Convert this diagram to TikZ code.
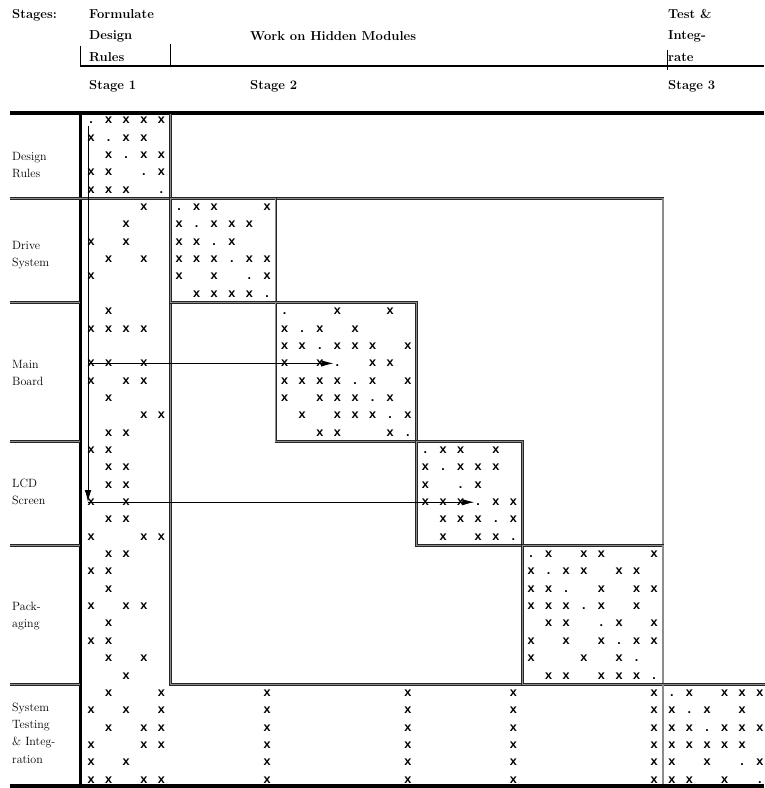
\documentclass[tikz,border=0pt]{standalone}
\usepackage{fontspec}
\setmonofont{Liberation Mono}
\usetikzlibrary{arrows.meta}

\begin{document}
\begin{tikzpicture}[x=1pt, y=-1pt,
  hdr/.style={font=\fontsize{13}{21.5}\selectfont\bfseries, align=left, inner sep=0pt},
  lbl/.style={font=\fontsize{12}{17.4}\selectfont, align=left, anchor=west, inner sep=0pt},
  xmark/.style={font=\fontsize{12.5}{12}\selectfont\ttfamily\bfseries, inner sep=0pt, text height=6.6pt, text depth=0pt},
  frame/.style={line width=3.5pt},
  dblline/.style={draw=black!85, double=black!45, line width=0.75pt, double distance=1.1pt},
  flow/.style={line width=0.9pt, -{Latex[length=12pt,width=6.5pt]}}]

  \useasboundingbox (0,0) rectangle (764,788);

  % stage headings
  \node[hdr, anchor=base west] (stages) at (12,18) {Stages:};
  \node[hdr, anchor=north west] (st-rules) at (89,9) {Formulate\\Design\\Rules};
  \node[hdr, anchor=base west] (st-hidden) at (250,40) {Work on Hidden Modules};
  \node[hdr, anchor=north west] (st-test) at (668,9) {Test \&\\Integ-\\rate};
  \node[hdr, anchor=base west] (stage1) at (89,89) {Stage 1};
  \node[hdr, anchor=base west] (stage2) at (250,89) {Stage 2};
  \node[hdr, anchor=base west] (stage3) at (668,89) {Stage 3};
  \draw[line width=1.5pt] (80,66) -- (764,66);
  \draw[line width=1pt] (80,46) -- (80,66);
  \draw[line width=1pt] (170,44) -- (170,66);
  \draw[line width=1pt] (667,50) -- (667,70);

  % module labels
  \node[lbl] (lab-rules) at (12,165) {Design\\Rules};
  \node[lbl] (lab-drive) at (12,255) {Drive\\System};
  \node[lbl] (lab-main) at (12,373) {Main\\Board};
  \node[lbl] (lab-lcd) at (12,492) {LCD\\Screen};
  \node[lbl] (lab-pack) at (12,616) {Pack-\\aging};
  \node[lbl] (lab-sys) at (12,733) {System\\Testing\\\& Integ-\\ration};

  % outer frame
  \draw[frame] (10,113) -- (764,113);
  \draw[line width=3pt] (80,113) -- (80,788);
  \draw[frame] (10,786) -- (764,786);

  % the matrix, one unit per cell
  \begin{scope}[shift={(91,120.5)}, x=17.6pt, y=-17.35pt]
    \foreach \b in {10.5,18.5,24.5,32.5}
      \draw[dblline] (-4.6,\b) -- (-0.62,\b);
    \draw[dblline] (-4.6,4.5) -- (4.5,4.5);
    \draw[dblline] (4.5,-0.35) -- (4.5,4.5);
    \draw[dblline] (4.5,4.5) rectangle (32.5,32.5);
    \foreach \a/\b in {4.5/10.5, 10.5/18.5, 18.5/24.5, 24.5/32.5}
      \draw[dblline] (\a,\a) rectangle (\b,\b);
    \draw[dblline] (38.3,32.5) -- (32.5,32.5) -- (32.5,38.25);

    % dependency marks
    \foreach \r/\cs in {
      0/{1,2,3,4},
      1/{0,2,3},
      2/{1,3,4},
      3/{0,1,4},
      4/{0,1,2},
      5/{3,6,7,10},
      6/{2,5,7,8,9},
      7/{0,2,5,6,8},
      8/{1,3,5,6,7,9,10},
      9/{0,5,7,10},
      10/{6,7,8,9},
      11/{1,14,17},
      12/{0,1,2,3,11,13,15},
      13/{11,12,14,15,16,18},
      14/{0,1,3,11,13,16,17},
      15/{0,2,3,11,12,13,14,16,18},
      16/{1,11,13,14,15,17},
      17/{3,4,12,14,15,16,18},
      18/{1,2,13,14,17},
      19/{0,1,20,21,23},
      20/{1,2,19,21,22,23},
      21/{1,2,19,22},
      22/{0,2,19,20,21,23,24},
      23/{1,2,20,21,22,24},
      24/{0,3,4,20,22,23},
      25/{1,2,26,28,29,32},
      26/{0,1,25,27,28,30,31},
      27/{1,25,26,29,31,32},
      28/{0,2,3,25,26,27,29,31},
      29/{1,26,27,30,32},
      30/{0,1,25,27,29,31,32},
      31/{1,3,25,28,30},
      32/{2,26,27,29,30,31},
      33/{1,4,10,18,24,32,34,36,37,38},
      34/{0,2,4,10,18,24,32,33,35,37},
      35/{1,3,4,10,18,24,32,33,34,36,37,38},
      36/{0,3,4,10,18,24,32,33,34,35,36,37},
      37/{0,2,10,18,24,32,33,35,38},
      38/{0,1,3,4,10,18,24,32,33,34,36}}
      \foreach \c in \cs
        \node[xmark] (x-\r-\c) at (\c,\r) {x};
    \foreach \r in {0,...,35,37,38}
      \node[xmark] (d-\r) at (\r,\r) {.};

    % design rules feed the modules
    \coordinate (rule-top) at (-0.17,0.3);
    \coordinate (rule-main) at (-0.17,14);
    \coordinate (rule-lcd) at (-0.17,22);
    \draw[flow] (rule-top) -- (rule-lcd);
    \draw[flow] (rule-main) -- (d-14);
    \draw[flow] (rule-lcd) -- (d-22);
  \end{scope}
\end{tikzpicture}
\end{document}
